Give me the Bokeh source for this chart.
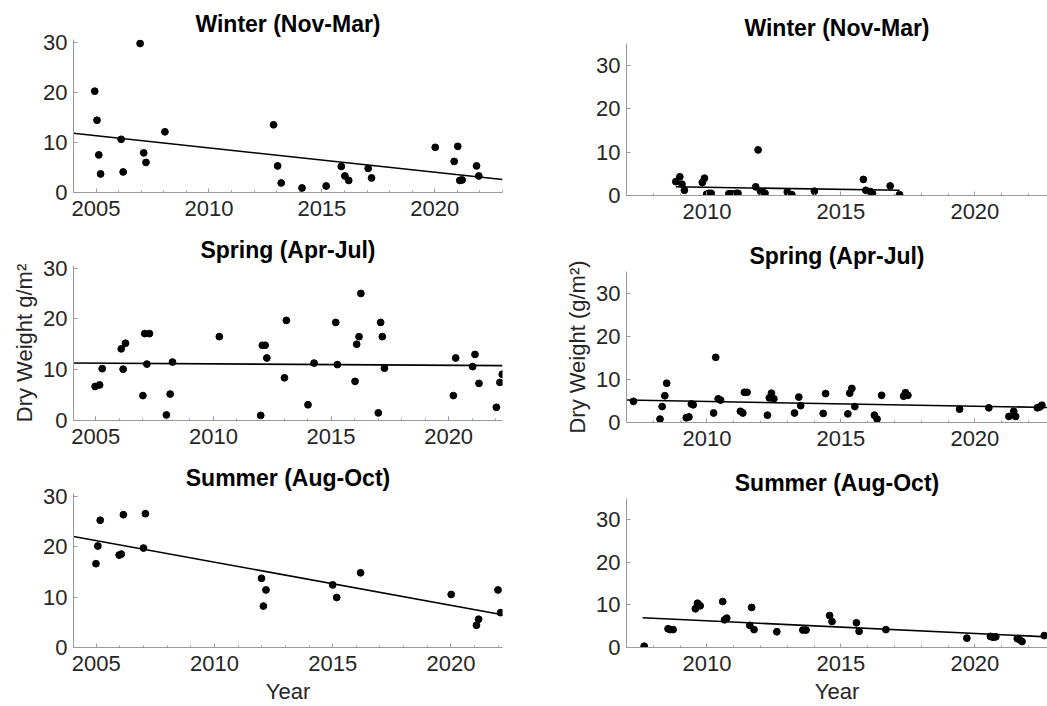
from bokeh.plotting import figure
from bokeh.layouts import row, column
from bokeh.models import Range1d, SingleIntervalTicker
from bokeh.embed import file_html
from bokeh.resources import INLINE

FONT = "Liberation Sans"

# ---------------- data (left column) ----------------
left_winter_year = [2004.94, 2005.04, 2005.12, 2005.20, 2006.11, 2006.20, 2006.95, 2007.11, 2007.21,
                    2008.05, 2012.86, 2013.04, 2013.20, 2014.12, 2015.19, 2015.86, 2016.02, 2016.19,
                    2017.05, 2017.20, 2020.02, 2020.86, 2021.02, 2021.11, 2021.21, 2021.85, 2021.95]
left_winter_val = [20.2, 14.4, 7.5, 3.7, 10.6, 4.1, 29.7, 7.9, 6.0,
                   12.1, 13.5, 5.3, 1.9, 0.9, 1.3, 5.2, 3.3, 2.4,
                   4.8, 2.9, 9.0, 6.2, 9.2, 2.4, 2.5, 5.3, 3.3]
left_winter_trend_year = [2004.0, 2023.0]
left_winter_trend_val = [11.8, 2.6]

left_spring_year = [2004.97, 2005.16, 2005.27, 2006.08, 2006.26, 2006.16, 2007.00, 2007.08, 2007.28,
                    2007.17, 2008.00, 2008.16, 2008.26, 2010.25, 2012.01, 2012.08, 2012.20, 2012.27,
                    2013.02, 2013.10, 2014.02, 2014.28, 2015.20, 2015.27, 2016.02, 2016.09, 2016.19,
                    2016.27, 2017.01, 2017.11, 2017.18, 2017.27, 2020.20, 2020.30, 2021.02, 2021.12,
                    2021.29, 2022.03, 2022.18, 2022.28]
left_spring_val = [6.7, 7.0, 10.2, 14.1, 15.2, 10.1, 4.9, 17.1, 17.1,
                   11.1, 1.1, 5.2, 11.5, 16.5, 1.0, 14.8, 14.8, 12.3,
                   8.4, 19.7, 3.1, 11.3, 19.3, 11.0, 7.7, 15.0, 16.5,
                   25.0, 1.5, 19.3, 16.5, 10.3, 4.9, 12.3, 10.6, 13.0,
                   7.3, 2.6, 7.5, 9.1]
left_spring_trend_year = [2004.05, 2022.29]
left_spring_trend_val = [11.3, 10.8]

left_summer_year = [2004.99, 2005.07, 2005.17, 2005.97, 2006.06, 2006.15, 2007.00, 2007.08, 2011.99,
                    2012.07, 2012.18, 2015.00, 2015.17, 2016.18, 2020.01, 2021.08, 2021.17, 2021.99,
                    2022.10]
left_summer_val = [16.6, 20.1, 25.2, 18.3, 18.5, 26.3, 19.7, 26.5, 13.7,
                   8.2, 11.4, 12.4, 9.9, 14.8, 10.5, 4.4, 5.6, 11.4,
                   6.9]
left_summer_trend_year = [2004.04, 2022.18]
left_summer_trend_val = [22.0, 6.5]

# ---------------- data (right column) ----------------
right_winter_year = [2008.84, 2008.99, 2009.07, 2009.16, 2009.83, 2009.91, 2009.99, 2010.07, 2010.16,
                     2010.82, 2010.92, 2011.00, 2011.09, 2011.16, 2011.82, 2011.91, 2012.00, 2012.08,
                     2012.17, 2013.00, 2013.17, 2014.01, 2015.84, 2015.93, 2016.10, 2016.18, 2016.84,
                     2017.19]
right_winter_val = [3.2, 4.3, 2.6, 1.2, 3.0, 4.0, 0.3, 0.5, 0.5,
                    0.4, 0.4, 0.1, 0.5, 0.5, 2.0, 10.5, 1.0, 0.8,
                    0.5, 0.8, 0.2, 1.0, 3.7, 1.2, 0.9, 0.5, 2.2,
                    0.2]
right_winter_trend_year = [2008.84, 2017.19]
right_winter_trend_val = [2.0, 1.2]

right_spring_year = [2007.26, 2008.25, 2008.33, 2008.43, 2008.50, 2009.23, 2009.33, 2009.42, 2009.49,
                     2010.25, 2010.33, 2010.42, 2010.51, 2011.25, 2011.34, 2011.40, 2011.50, 2012.26,
                     2012.33, 2012.41, 2012.50, 2013.27, 2013.43, 2013.50, 2014.34, 2014.43, 2015.26,
                     2015.33, 2015.41, 2015.52, 2016.25, 2016.35, 2016.52, 2017.34, 2017.41, 2017.50,
                     2019.43, 2020.52, 2021.27, 2021.45, 2021.52, 2022.33, 2022.42, 2022.50]
right_spring_val = [4.9, 0.8, 3.7, 6.2, 9.1, 1.1, 1.3, 4.3, 4.1,
                    2.2, 15.1, 5.5, 5.2, 2.6, 2.2, 7.0, 7.0, 1.7,
                    5.7, 6.8, 5.5, 2.2, 5.9, 3.9, 2.1, 6.7, 2.0,
                    6.8, 7.9, 3.7, 1.7, 0.8, 6.3, 6.1, 6.9, 6.3,
                    3.1, 3.4, 1.4, 2.6, 1.4, 3.4, 3.6, 4.0]
right_spring_trend_year = [2007.0, 2023.0]
right_spring_trend_val = [5.2, 3.45]

right_summer_year = [2007.66, 2008.55, 2008.64, 2008.74, 2009.57, 2009.65, 2009.75, 2010.59, 2010.66,
                     2010.74, 2011.60, 2011.67, 2011.76, 2012.61, 2013.58, 2013.70, 2014.58, 2014.67,
                     2015.58, 2015.68, 2016.68, 2019.70, 2020.58, 2020.68, 2020.78, 2021.58, 2021.67,
                     2021.76, 2022.59]
right_summer_val = [0.3, 4.4, 4.2, 4.2, 9.1, 10.4, 9.8, 10.8, 6.5,
                    6.9, 5.2, 9.4, 4.2, 3.7, 4.1, 4.1, 7.5, 6.1,
                    5.8, 3.8, 4.2, 2.2, 2.6, 2.4, 2.5, 2.1, 1.8,
                    1.4, 2.8]
right_summer_trend_year = [2007.6, 2023.0]
right_summer_trend_val = [7.0, 2.4]

titles = ["Winter (Nov-Mar)", "Spring (Apr-Jul)", "Summer (Aug-Oct)"]
left_ylabel = "Dry Weight g/m\u00b2"
right_ylabel = "Dry Weight (g/m\u00b2)"
xlabel = "Year"


def make_panel(title, years, vals, tyears, tvals, xr, yr, width, height,
               ml, mr, mt, mb, ylabel=None, xlab=None):
    p = figure(width=width, height=height, x_range=Range1d(*xr), y_range=Range1d(*yr),
               output_backend="svg", toolbar_location=None, title=title,
               min_border_left=ml, min_border_right=mr, min_border_top=mt, min_border_bottom=mb)
    p.outline_line_color = None
    p.xgrid.visible = False
    p.ygrid.visible = False
    p.background_fill_color = "white"
    p.title.align = "center"
    p.title.text_font = FONT
    p.title.text_font_size = "23px"
    p.title.text_font_style = "bold"
    p.title.text_color = "black"
    p.title.standoff = 6

    p.line(tyears, tvals, line_color="black", line_width=1.6)
    p.scatter(years, vals, size=6.8, fill_color="black", line_color="black")

    p.xaxis.ticker = SingleIntervalTicker(interval=5, num_minor_ticks=5)
    p.yaxis.ticker = SingleIntervalTicker(interval=10, num_minor_ticks=0)
    for ax in (p.xaxis[0], p.yaxis[0]):
        ax.axis_line_color = "#9a9a9a"
        ax.axis_line_width = 1
        ax.major_tick_line_color = "#9a9a9a"
        ax.minor_tick_line_color = "#9a9a9a"
        ax.major_tick_in = 4
        ax.major_tick_out = 0
        ax.minor_tick_in = 2
        ax.minor_tick_out = 0
        ax.major_label_text_font = FONT
        ax.major_label_text_font_size = "22px"
        ax.major_label_text_color = "#262626"
        ax.axis_label_text_font = FONT
        ax.axis_label_text_font_size = "22px"
        ax.axis_label_text_font_style = "normal"
        ax.axis_label_text_color = "#262626"
    p.xaxis.major_label_standoff = 8
    p.yaxis.major_label_standoff = 6
    if ylabel:
        p.yaxis.axis_label = ylabel
        p.yaxis.axis_label_standoff = 3
    if xlab:
        p.xaxis.axis_label = xlab
        p.xaxis.axis_label_standoff = 5
    return p


LX1 = (2004.0, 2023.0)
LX2 = (2004.05, 2022.29)
LX3 = (2004.04, 2022.18)
LY = (0, 30.5)
RX = (2007.0, 2022.71)
RY = (0, 35)

l1 = make_panel(titles[0], left_winter_year, left_winter_val, left_winter_trend_year, left_winter_trend_val,
                LX1, LY, 522, 230, 73, 20, 39, 38)
l2 = make_panel(titles[1], left_spring_year, left_spring_val, left_spring_trend_year, left_spring_trend_val,
                LX2, LY, 522, 228, 73, 20, 35, 38, ylabel=left_ylabel)
l3 = make_panel(titles[2], left_summer_year, left_summer_val, left_summer_trend_year, left_summer_trend_val,
                LX3, LY, 522, 248, 73, 20, 35, 57, xlab=xlabel)

r1 = make_panel(titles[0], right_winter_year, right_winter_val, right_winter_trend_year, right_winter_trend_val,
                RX, RY, 525, 233, 104, 0, 43, 38)
r2 = make_panel(titles[1], right_spring_year, right_spring_val, right_spring_trend_year, right_spring_trend_val,
                RX, RY, 525, 227, 104, 0, 38, 38, ylabel=right_ylabel)
r3 = make_panel(titles[2], right_summer_year, right_summer_val, right_summer_trend_year, right_summer_trend_val,
                RX, RY, 525, 246, 104, 0, 38, 57, xlab=xlabel)

layout = row(column(l1, l2, l3, spacing=0), column(r1, r2, r3, spacing=0), spacing=0)

open("out.html", "w").write(file_html(layout, INLINE))
